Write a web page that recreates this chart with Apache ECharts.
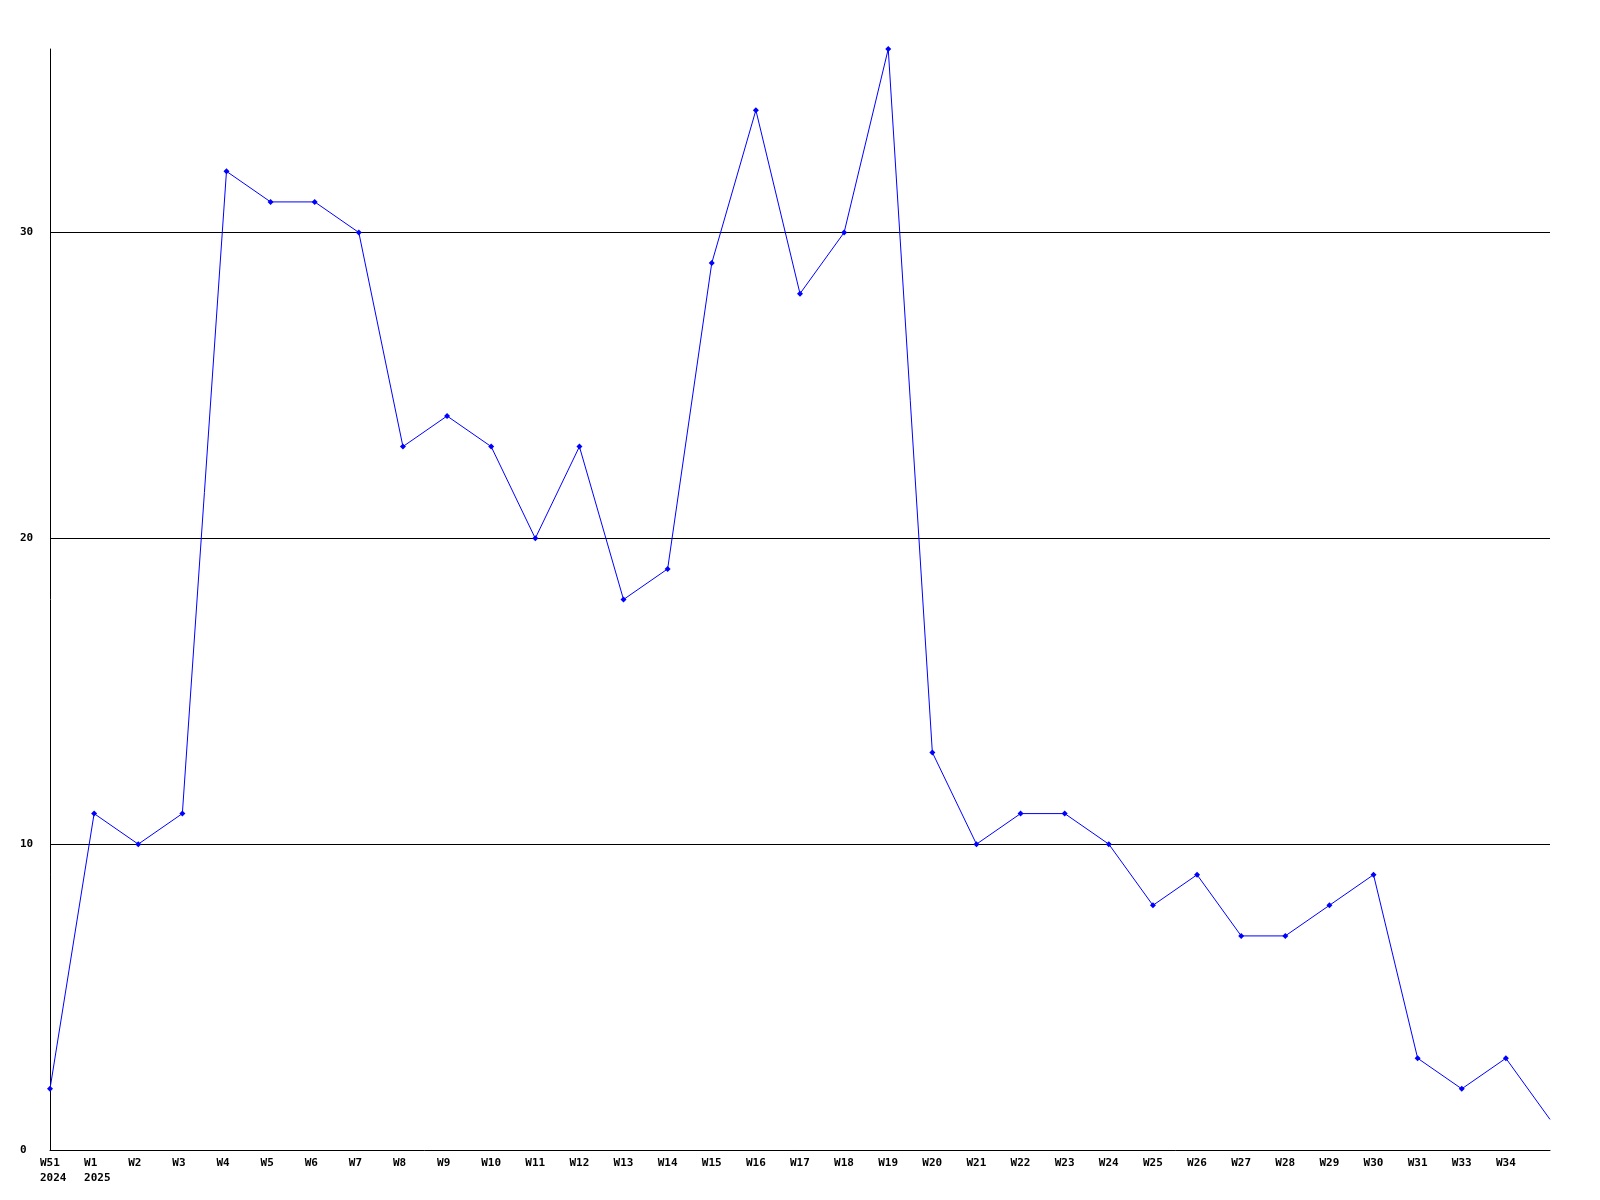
<!DOCTYPE html>
<html>
<head>
<meta charset="utf-8">
<script src="https://cdn.jsdelivr.net/npm/echarts@6/dist/echarts.min.js"></script>
<style>html,body{margin:0;padding:0;background:#fff}#c{width:1600px;height:1200px}</style>
</head>
<body>
<div id="c"></div>
<script>
const categories = ['W51\n2024','W1\n2025','W2','W3','W4','W5','W6','W7','W8','W9','W10','W11','W12','W13','W14','W15','W16','W17','W18','W19','W20','W21','W22','W23','W24','W25','W26','W27','W28','W29','W30','W31','W33','W34',''];
const values = [2,11,10,11,32,31,31,30,23,24,23,20,23,18,19,29,34,28,30,36,13,10,11,11,10,8,9,7,7,8,9,3,2,3,1];
const yTicks = [0,10,20,30];

const chart = echarts.init(document.getElementById('c'));
const data = values.map((v, i) => i === values.length - 1 ? {value: v, symbol: 'none'} : v);
const font = {fontFamily: 'DejaVu Sans Mono', fontWeight: 'bold', fontSize: 11, color: '#000'};
chart.setOption({
  animation: false,
  backgroundColor: '#fff',
  grid: {left: 50, right: 50, top: 49, bottom: 50},
  xAxis: {
    type: 'category',
    data: categories,
    boundaryGap: false,
    axisLine: {lineStyle: {color: '#000', width: 1}},
    axisTick: {show: false},
    axisLabel: {
      interval: 0,
      margin: 6,
      align: 'center',
      lineHeight: 15,
      formatter: function (s) {
        if (!s) return '';
        return s.split('\n').map(p => '{a|' + p + '}').join('\n');
      },
      rich: {a: Object.assign({width: 20, align: 'left', lineHeight: 15}, font)}
    }
  },
  yAxis: {
    type: 'value',
    min: 0,
    max: 36,
    interval: 10,
    axisLine: {show: true, lineStyle: {color: '#000', width: 1}},
    axisTick: {show: false},
    splitLine: {showMinLine: false, showMaxLine: false, lineStyle: {color: '#000', width: 1}},
    axisLabel: Object.assign({
      margin: 30,
      align: 'left',
      padding: [4, 0, 0, 0],
      showMaxLabel: false,
      formatter: function (v) { return yTicks.indexOf(v) >= 0 ? String(v) : ''; }
    }, font)
  },
  series: [{
    type: 'line',
    data: data,
    symbol: 'diamond',
    symbolSize: 6,
    showSymbol: true,
    lineStyle: {color: '#0000ff', width: 1},
    itemStyle: {color: '#0000ff'},
    clip: false
  }]
});
</script>
</body>
</html>
